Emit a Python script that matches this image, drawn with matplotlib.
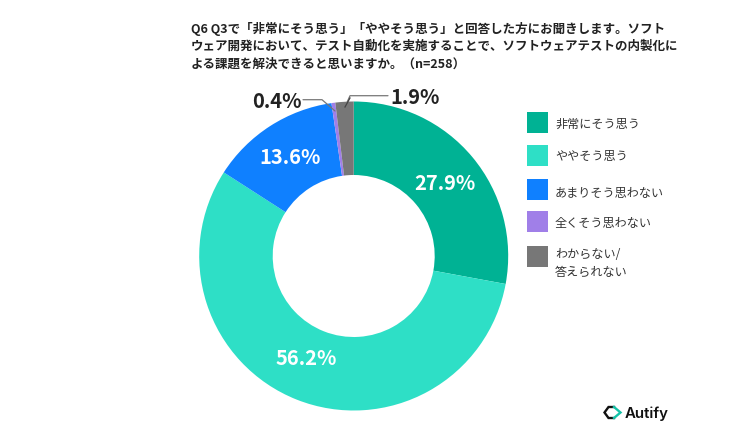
import matplotlib
matplotlib.use("Agg")
import matplotlib.pyplot as plt
from matplotlib.patches import Rectangle

plt.rcParams['font.family'] = ['Noto Sans CJK JP', 'DejaVu Sans']

W, H = 749, 431

categories = ["非常にそう思う", "ややそう思う", "あまりそう思わない", "全くそう思わない", "わからない/\n答えられない"]
values = [27.9, 56.2, 13.6, 0.4, 1.9]
colors = ["#00B294", "#2EDFC6", "#0F80FF", "#A07FE8", "#777777"]
title_lines = [
    "Q6 Q3で「非常にそう思う」「ややそう思う」と回答した方にお聞きします。ソフト",
    "ウェア開発において、テスト自動化を実施することで、ソフトウェアテストの内製化に",
    "よる課題を解決できると思いますか。（n=258）",
]

fig = plt.figure(figsize=(W / 100, H / 100), dpi=100, facecolor="white")
ax = fig.add_axes([0, 0, 1, 1])


def Y(py):
    return H - py


# Donut
cx, cy, r_out, r_in = 353.7, 257, 154.5, 81
ax.pie(values, colors=colors, startangle=90, counterclock=False,
       center=(cx, Y(cy)), radius=r_out, frame=True,
       wedgeprops=dict(width=r_out - r_in, linewidth=0))
ax.set_xlim(0, W)
ax.set_ylim(0, H)
ax.set_aspect("auto")
ax.axis("off")

# Question text
for py, line in zip([29, 46.5, 64], title_lines):
    ax.text(191, Y(py), line, fontsize=9.0, fontweight="bold",
            color="#222222", va="center", ha="left")

# Value labels
label_pos = [(445, 184, "white"), (306, 359, "white"), (290, 158, "white"),
             (277, 102, "#222222"), (415, 97, "#222222")]
for v, (px, py, c) in zip(values, label_pos):
    ax.text(px, Y(py), f"{v}%", fontsize=14.5, fontweight="bold", color=c,
            ha="center", va="center")

# Leader lines for the two thin slices
ax.plot([303, 322, 335], [Y(100.7), Y(100.7), Y(112)], color="#777777", lw=0.9,
        solid_capstyle="round")
ax.plot([388, 350, 345], [Y(96.7), Y(96.7), Y(108)], color="#777777", lw=0.9,
        solid_capstyle="round")
ax.plot([350, 345], [Y(99), Y(108)], color="#444444", lw=0.9)

# Legend
legend_y = [123.8, 156.3, 190.5, 222.8, 257.5]
text_y = [124, 156.5, 193, 223, [255, 272]]
for name, c, sy, ty in zip(categories, colors, legend_y, text_y):
    ax.add_patch(Rectangle((527, Y(sy + 10.5)), 21, 21, facecolor=c, edgecolor="none"))
    if isinstance(ty, list):
        for part, t in zip(name.split("\n"), ty):
            ax.text(555, Y(t), part, fontsize=8.7, color="#333333", va="center", ha="left")
    else:
        ax.text(555, Y(ty), name, fontsize=8.7, color="#333333", va="center", ha="left")

# Brand mark and wordmark
ax.plot([614, 608.5, 604.5, 608.5, 614], [Y(408), Y(408), Y(413.5), Y(419), Y(419)],
        color="#111111", lw=1.7, solid_joinstyle="miter")
ax.plot([614, 620.5, 614], [Y(408), Y(413.5), Y(419)], color="#14C2A8", lw=1.7,
        solid_joinstyle="miter")
ax.text(625, Y(413.5), "Autify", fontsize=10.8, fontweight="semibold", color="#111111",
        family="Inter", va="center", ha="left")

fig.savefig("out.png", dpi=100, facecolor="white")
